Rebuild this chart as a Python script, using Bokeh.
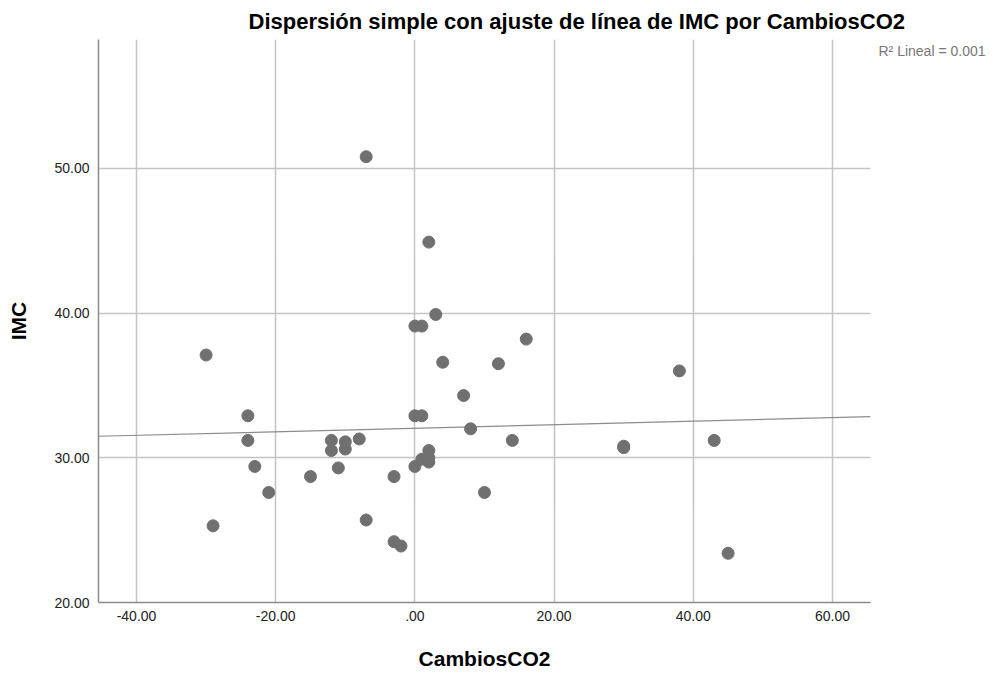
from bokeh.plotting import figure
from bokeh.models import Range1d, FixedTicker, Title
from bokeh.embed import file_html
from bokeh.resources import INLINE

# data
cambios_co2 = [-30, -29, -24, -24, -23, -21, -15, -12, -12, -11, -10, -10, -8, -7, -7, -3, -3, -2,
               0, 0, 0, 1, 1, 1, 2, 2, 2, 2, 3, 4, 7, 8, 10, 12, 14, 16, 30, 30, 38, 43, 45]
imc = [37.1, 25.3, 32.9, 31.2, 29.4, 27.6, 28.7, 31.2, 30.5, 29.3, 31.1, 30.6, 31.3, 25.7, 50.8,
       28.7, 24.2, 23.9, 29.4, 32.9, 39.1, 32.9, 39.1, 29.9, 30.0, 30.5, 29.7, 44.9, 39.9, 36.6,
       34.3, 32.0, 27.6, 36.5, 31.2, 38.2, 30.8, 30.7, 36.0, 31.2, 23.4]
fit_intercept = 32.04
fit_slope = 0.0122
title_text = "Dispersi\u00f3n simple con ajuste de l\u00ednea de IMC por CambiosCO2"
r2_text = "R\u00b2 Lineal = 0.001"
x_ticks = [-40, -20, 0, 20, 40, 60]
x_tick_labels = ["-40.00", "-20.00", ".00", "20.00", "40.00", "60.00"]
y_ticks = [20, 30, 40, 50]
y_tick_labels = ["20.00", "30.00", "40.00", "50.00"]

FONT = "Liberation Sans"
x0, x1 = -45.46, 65.46
y0, y1 = 20.0, 58.9

p = figure(width=992, height=675, output_backend="svg", toolbar_location=None,
           x_range=Range1d(x0, x1), y_range=Range1d(y0, y1),
           min_border_left=98, min_border_right=122, min_border_top=38, min_border_bottom=73)
p.title = None
p.outline_line_color = None
p.background_fill_color = "white"

r2 = Title(text=r2_text, align="right", offset=-115, standoff=-38,
           text_font=FONT, text_font_size="14px", text_font_style="normal", text_color="#777777")
p.add_layout(r2, "above")
main_title = Title(text=title_text, align="left", offset=150, standoff=12,
                   text_font=FONT, text_font_size="22px", text_font_style="bold", text_color="black")
p.add_layout(main_title, "above")

for ax in (p.xaxis[0], p.yaxis[0]):
    ax.axis_line_color = "#8a8a8a"
    ax.axis_line_width = 1.5
    ax.major_tick_in = 0
    ax.major_tick_out = 0
    ax.minor_tick_line_color = None
    ax.major_label_text_font = FONT
    ax.major_label_text_font_size = "14px"
    ax.major_label_text_color = "#222222"
    ax.axis_label_text_font = FONT
    ax.axis_label_text_font_size = "21px"
    ax.axis_label_text_font_style = "bold"
    ax.axis_label_text_color = "black"

p.xaxis.ticker = FixedTicker(ticks=x_ticks)
p.xaxis.major_label_overrides = dict(zip(x_ticks, x_tick_labels))
p.yaxis.ticker = FixedTicker(ticks=y_ticks)
p.yaxis.major_label_overrides = dict(zip(y_ticks, y_tick_labels))
p.xaxis.axis_label = "CambiosCO2"
p.yaxis.axis_label = "IMC"
p.xaxis.major_label_standoff = 8
p.xaxis.axis_label_standoff = 23
p.yaxis.major_label_standoff = 9
p.yaxis.axis_label_standoff = 21

p.xgrid.grid_line_color = "#c4c4c4"
p.ygrid.grid_line_color = "#c4c4c4"
p.xgrid.grid_line_width = 1.5
p.ygrid.grid_line_width = 1.5

fx = [x0, x1]
fy = [fit_intercept + fit_slope * v for v in fx]
p.line(fx, fy, line_color="#8c8c8c", line_width=1.2)

p.scatter(cambios_co2, imc, size=12, fill_color="#707070", line_color="#707070")

open("out.html", "w").write(file_html(p, INLINE))
